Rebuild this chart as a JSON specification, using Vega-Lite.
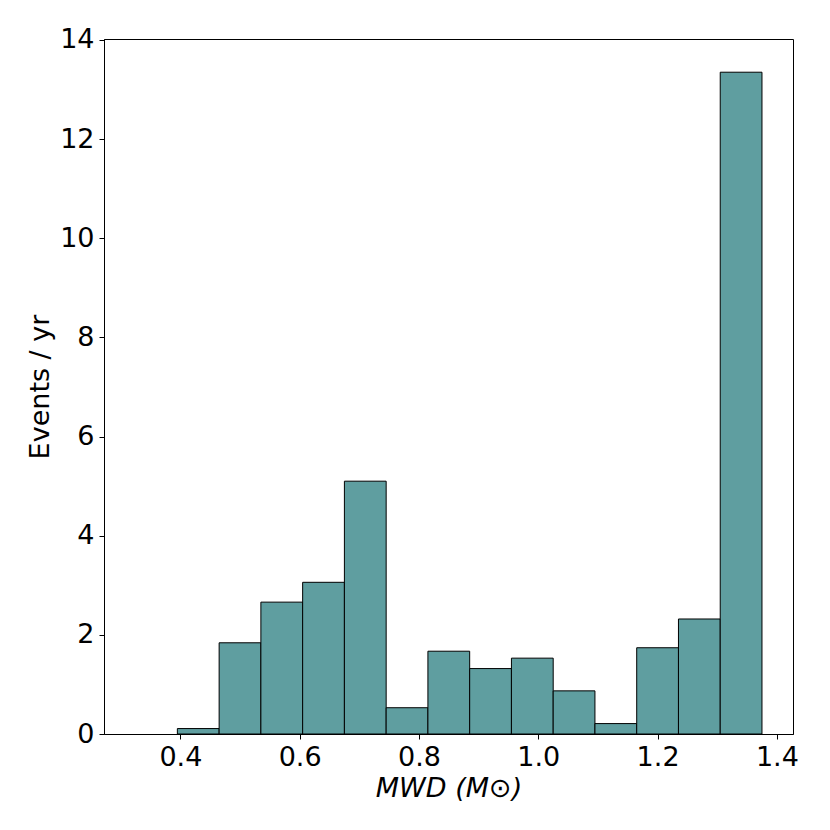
{
  "$schema": "https://vega.github.io/schema/vega-lite/v6.json",
  "description": "Histogram of white dwarf mass event rates",
  "autosize": "none",
  "padding": {"left": 104, "top": 39, "right": 37, "bottom": 96},
  "width": 689,
  "height": 695,
  "background": "white",
  "data": {
    "values": [
      {"bin_start": 0.395, "bin_end": 0.465, "rate": 0.11},
      {"bin_start": 0.465, "bin_end": 0.535, "rate": 1.84},
      {"bin_start": 0.535, "bin_end": 0.605, "rate": 2.66},
      {"bin_start": 0.605, "bin_end": 0.675, "rate": 3.06},
      {"bin_start": 0.675, "bin_end": 0.745, "rate": 5.10},
      {"bin_start": 0.745, "bin_end": 0.815, "rate": 0.53},
      {"bin_start": 0.815, "bin_end": 0.885, "rate": 1.67},
      {"bin_start": 0.885, "bin_end": 0.955, "rate": 1.32},
      {"bin_start": 0.955, "bin_end": 1.025, "rate": 1.53},
      {"bin_start": 1.025, "bin_end": 1.095, "rate": 0.87},
      {"bin_start": 1.095, "bin_end": 1.165, "rate": 0.21},
      {"bin_start": 1.165, "bin_end": 1.235, "rate": 1.74},
      {"bin_start": 1.235, "bin_end": 1.305, "rate": 2.32},
      {"bin_start": 1.305, "bin_end": 1.375, "rate": 13.35}
    ]
  },
  "mark": {"type": "rect", "fill": "#5F9EA0", "stroke": "black", "strokeWidth": 1},
  "encoding": {
    "x": {
      "field": "bin_start",
      "type": "quantitative",
      "scale": {"domain": [0.272, 1.427], "nice": false, "zero": false},
      "axis": {
        "title": "MWD (M⊙)",
        "titleFontStyle": "italic",
        "values": [0.4, 0.6, 0.8, 1.0, 1.2, 1.4],
        "format": ".1f"
      }
    },
    "x2": {"field": "bin_end"},
    "y": {
      "field": "rate",
      "type": "quantitative",
      "scale": {"domain": [0, 14.02], "nice": false},
      "axis": {
        "title": "Events / yr",
        "values": [0, 2, 4, 6, 8, 10, 12, 14],
        "format": "d"
      }
    },
    "y2": {"datum": 0}
  },
  "config": {
    "view": {"stroke": "black", "strokeWidth": 1},
    "axis": {
      "grid": false,
      "domainColor": "black",
      "tickColor": "black",
      "tickSize": 5,
      "labelColor": "black",
      "labelFont": "DejaVu Sans",
      "labelFontSize": 27,
      "labelPadding": 5,
      "titleFont": "DejaVu Sans",
      "titleFontSize": 27,
      "titleFontWeight": "normal",
      "titleColor": "black"
    },
    "axisX": {"titlePadding": 5},
    "axisY": {"titlePadding": 5}
  }
}
